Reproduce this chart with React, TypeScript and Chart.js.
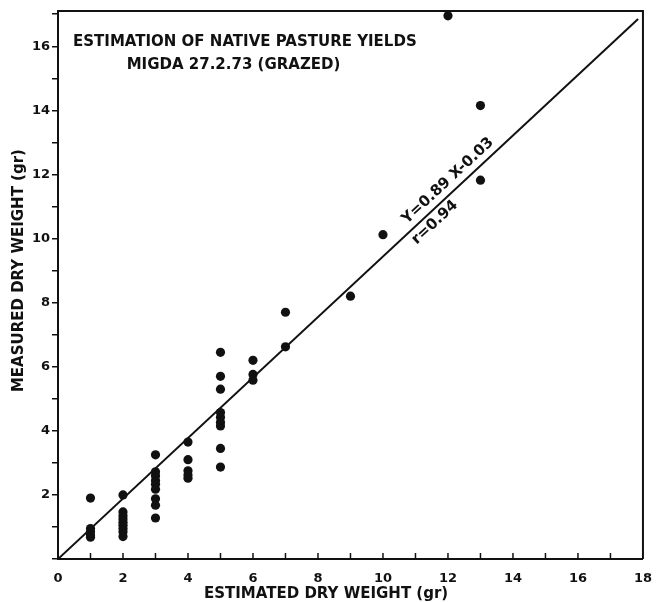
import React, { useEffect, useRef } from "react";
import { Chart, registerables } from "chart.js";

Chart.register(...registerables);

// Estimated dry weight (x) columns and measured dry weights (y) in each column
const estimatedValues = [1, 2, 3, 4, 5, 6, 7, 9, 10, 12, 13];
const measuredByEstimate: number[][] = [
  [1.9, 0.95, 0.85, 0.75, 0.68],
  [2.0, 1.47, 1.35, 1.25, 1.15, 1.05, 0.95, 0.85, 0.7],
  [3.25, 2.72, 2.6, 2.45, 2.33, 2.18, 1.88, 1.68, 1.28],
  [3.65, 3.1, 2.75, 2.62, 2.52],
  [6.45, 5.7, 5.3, 4.57, 4.42, 4.27, 4.15, 3.45, 2.87],
  [6.2, 5.76, 5.58],
  [7.7, 6.62],
  [8.2],
  [10.12],
  [16.95],
  [14.15, 11.82],
];

const fitLineX = [0, 17.85];
const fitLineY = [0, 16.85];

const xTickValues = [0, 1, 2, 3, 4, 5, 6, 7, 8, 9, 10, 11, 12, 13, 14, 15, 16, 17, 18];
const yTickValues = [0, 1, 2, 3, 4, 5, 6, 7, 8, 9, 10, 11, 12, 13, 14, 15, 16, 17];

const titleLines = ["ESTIMATION OF NATIVE PASTURE YIELDS", "MIGDA 27.2.73 (GRAZED)"];
const titleAnchorX = [5.75, 5.4];
const titleAnchorY = [16.12, 15.4];

const equationText = "Y=0.89 X-0.03";
const equationAnchor = [12.0, 11.8];
const rText = "r=0.94";
const rAnchor = [11.6, 10.5];

const xAxisTitle = "ESTIMATED DRY WEIGHT (gr)";
const xAxisTitleAt = 8.25;
const yAxisTitle = "MEASURED DRY WEIGHT (gr)";
const yAxisTitleAt = 9.0;

const FONT = "'DejaVu Sans', 'Liberation Sans', sans-serif";
const INK = "#111";

export default function App() {
  const canvasRef = useRef<HTMLCanvasElement | null>(null);

  useEffect(() => {
    if (!canvasRef.current) return;
    const points: { x: number; y: number }[] = [];
    estimatedValues.forEach((x, i) => {
      measuredByEstimate[i].forEach((y) => points.push({ x, y }));
    });
    const linePts = fitLineX.map((x, i) => ({ x, y: fitLineY[i] }));

    const decorPlugin = {
      id: "decor",
      afterDraw(chart: any) {
        const { ctx, chartArea, scales } = chart;
        const xs = scales.x;
        const ys = scales.y;
        ctx.save();
        ctx.strokeStyle = INK;
        ctx.lineWidth = 2;
        // top & right frame
        ctx.beginPath();
        ctx.moveTo(chartArea.left, chartArea.top);
        ctx.lineTo(chartArea.right, chartArea.top);
        ctx.lineTo(chartArea.right, chartArea.bottom);
        ctx.stroke();
        // inward x ticks
        ctx.lineWidth = 1.5;
        xTickValues.forEach((v) => {
          if (v === 0 || v === 18) return;
          const px = xs.getPixelForValue(v);
          ctx.beginPath();
          ctx.moveTo(px, chartArea.bottom);
          ctx.lineTo(px, chartArea.bottom - 6);
          ctx.stroke();
        });
        ctx.fillStyle = INK;
        ctx.textAlign = "center";
        ctx.textBaseline = "middle";
        // title lines
        ctx.font = `bold 15px ${FONT}`;
        titleLines.forEach((t, i) => {
          ctx.fillText(t, xs.getPixelForValue(titleAnchorX[i]), ys.getPixelForValue(titleAnchorY[i]));
        });
        // axis titles
        ctx.fillText(xAxisTitle, xs.getPixelForValue(xAxisTitleAt), chartArea.bottom + 35);
        ctx.save();
        ctx.translate(chartArea.left - 39, ys.getPixelForValue(yAxisTitleAt));
        ctx.rotate(-Math.PI / 2);
        ctx.fillText(yAxisTitle, 0, 0);
        ctx.restore();
        // equation labels rotated along fit line
        const p0x = xs.getPixelForValue(fitLineX[0]);
        const p0y = ys.getPixelForValue(fitLineY[0]);
        const p1x = xs.getPixelForValue(fitLineX[1]);
        const p1y = ys.getPixelForValue(fitLineY[1]);
        const ang = Math.atan2(p1y - p0y, p1x - p0x);
        const drawRot = (txt: string, ax: number, ay: number) => {
          ctx.save();
          ctx.translate(xs.getPixelForValue(ax), ys.getPixelForValue(ay));
          ctx.rotate(ang);
          ctx.fillText(txt, 0, 0);
          ctx.restore();
        };
        ctx.font = `bold 15px ${FONT}`;
        drawRot(equationText, equationAnchor[0], equationAnchor[1]);
        drawRot(rText, rAnchor[0], rAnchor[1]);
        ctx.restore();
      },
    };

    const chart = new Chart(canvasRef.current, {
      type: "scatter",
      data: {
        datasets: [
          {
            data: points,
            pointRadius: 4.6,
            pointHoverRadius: 4.6,
            backgroundColor: INK,
            borderColor: INK,
            borderWidth: 0,
          },
          {
            type: "line",
            data: linePts,
            borderColor: INK,
            borderWidth: 2,
            pointRadius: 0,
            showLine: true,
            fill: false,
          } as any,
        ],
      },
      options: {
        animation: false,
        responsive: false,
        events: [],
        layout: { padding: { top: 11, right: 11, left: 0, bottom: 0 } },
        plugins: { legend: { display: false }, tooltip: { enabled: false } },
        scales: {
          x: {
            type: "linear",
            min: 0,
            max: 18,
            afterBuildTicks: (s: any) => {
              s.ticks = xTickValues.map((v) => ({ value: v }));
            },
            afterFit: (s: any) => {
              s.height = 43;
            },
            grid: { display: false },
            border: { display: true, color: INK, width: 2 },
            ticks: {
              autoSkip: false,
              maxRotation: 0,
              padding: 4,
              color: INK,
              font: { family: FONT, size: 13, weight: "bold" },
              callback: (v: any) => (Number(v) % 2 === 0 ? String(v) : ""),
            },
            title: { display: false },
          },
          y: {
            type: "linear",
            min: 0,
            max: 17.1,
            afterBuildTicks: (s: any) => {
              s.ticks = yTickValues.map((v) => ({ value: v }));
            },
            afterFit: (s: any) => {
              s.width = 58;
            },
            grid: {
              display: true,
              drawOnChartArea: false,
              drawTicks: true,
              tickLength: 6,
              color: INK,
              lineWidth: 1.5,
            },
            border: { display: true, color: INK, width: 2 },
            ticks: {
              autoSkip: false,
              padding: 2,
              color: INK,
              font: { family: FONT, size: 13, weight: "bold" },
              callback: (v: any) => (Number(v) % 2 === 0 && Number(v) > 0 ? String(v) : ""),
            },
            title: { display: false },
          },
        },
      } as any,
      plugins: [decorPlugin],
    });
    return () => chart.destroy();
  }, []);

  return (
    <div style={{ position: "absolute", left: 0, top: 0, width: 656, height: 602, background: "#fff" }}>
      <canvas ref={canvasRef} width={656} height={602} style={{ display: "block" }} />
    </div>
  );
}
